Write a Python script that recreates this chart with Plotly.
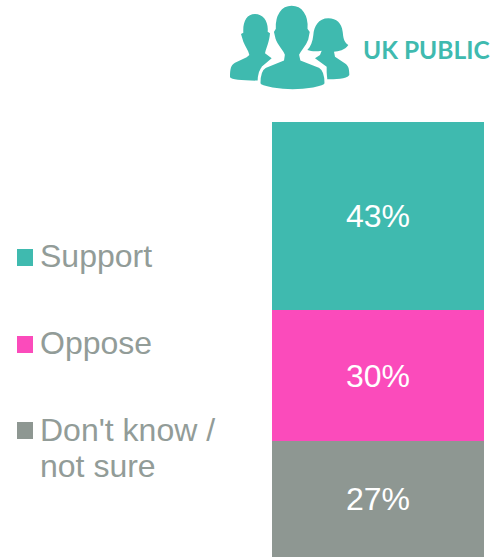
import plotly.graph_objects as go

CATEGORY = ["UK public"]
SERIES = ["Don't know / not sure", "Oppose", "Support"]
VALUES = [26.7, 30.1, 43.2]
LABELS = ["27%", "30%", "43%"]
COLORS = ["#8E9792", "#FB4BBB", "#3FBAAF"]
LEGEND_NAMES = ["Support", "Oppose", "Don't know /", "not sure"]
LEGEND_COLORS = ["#3FBAAF", "#FB4BBB", "#8E9792"]

W, H = 492, 557

def px(x):
    return x / W

def py(y):
    return 1 - y / H

def icon_path(cmds):
    # decorative icon outline, given in 3x crop pixels offset by (220, 0)
    out = []
    for c in cmds:
        if isinstance(c, str):
            out.append(c)
        else:
            out.append(f"{px(220 + c[0] / 3):.5f},{py(c[1] / 3):.5f}")
    return " ".join(out)

LEFT = ["M", (105, 42), "C", (80, 42), (68, 65), (70, 98), "L", (63, 102), "L", (70, 125),
        "C", (76, 140), (85, 150), (88, 165), "L", (80, 172), "L", (45, 188),
        "C", (33, 195), (30, 205), (30, 232), "C", (35, 240), (70, 242), (125, 242),
        "L", (125, 200), "L", (155, 175), "L", (135, 160),
        "C", (140, 140), (148, 125), (150, 100), "L", (143, 95),
        "C", (146, 65), (130, 42), (105, 42), "Z"]
RIGHT = ["M", (325, 55), "C", (295, 55), (282, 80), (280, 105),
         "C", (278, 125), (272, 140), (262, 150), "C", (275, 155), (290, 155), (305, 152),
         "L", (300, 165), "L", (285, 175), "L", (320, 200), "L", (320, 238),
         "C", (345, 238), (380, 238), (388, 225), "C", (388, 205), (385, 195), (372, 188),
         "L", (345, 170), "L", (342, 155), "C", (355, 155), (375, 150), (385, 135),
         "C", (370, 125), (370, 110), (368, 95), "C", (365, 70), (350, 55), (325, 55), "Z"]
CENTER = ["M", (215, 13), "C", (180, 13), (161, 45), (163, 85), "L", (157, 95), "L", (163, 120),
          "C", (170, 140), (185, 150), (190, 165), "L", (188, 178), "L", (135, 200),
          "C", (122, 207), (117, 220), (117, 250), "C", (117, 265), (190, 272), (218, 272),
          "C", (250, 272), (318, 265), (318, 250), "C", (318, 220), (312, 207), (300, 200),
          "L", (245, 178), "L", (242, 165), "C", (250, 150), (262, 140), (269, 120),
          "L", (274, 95), "L", (267, 85), "C", (270, 45), (250, 13), (215, 13), "Z"]

fig = go.Figure()
for name, val, lab, col in zip(SERIES, VALUES, LABELS, COLORS):
    fig.add_trace(go.Bar(
        x=CATEGORY, y=[val], name=name, marker=dict(color=col, line=dict(width=0)),
        text=[lab], textposition="inside", insidetextanchor="middle", textangle=0,
        insidetextfont=dict(color="white", size=32, family="Liberation Sans"),
        showlegend=False, width=1,
    ))

shapes = []
for path, lw in [(LEFT, 0), (RIGHT, 0), (CENTER, 3)]:
    shapes.append(dict(type="path", xref="paper", yref="paper", path=icon_path(path),
                       fillcolor="#3FBAAF", line=dict(color="white", width=lw), layer="above"))

annotations = [dict(text="UK PUBLIC", xref="paper", yref="paper", x=px(361), y=py(49),
                    xanchor="left", yanchor="middle", showarrow=False,
                    font=dict(family="Lato", size=24.5, color="#3FBAAF", weight="bold"))]

SWATCH_TOPS = [249, 336, 422]
for col, top in zip(LEGEND_COLORS, SWATCH_TOPS):
    shapes.append(dict(type="rect", xref="paper", yref="paper", x0=px(17), x1=px(33),
                       y0=py(top), y1=py(top + 17), fillcolor=col, line=dict(width=0)))

TEXT_CENTRES = [256, 343, 430, 466]
for name, ty in zip(LEGEND_NAMES, TEXT_CENTRES):
    annotations.append(dict(text=name, xref="paper", yref="paper", x=px(38), y=py(ty),
                            xanchor="left", yanchor="middle", align="left", showarrow=False,
                            font=dict(family="Liberation Sans", size=32, color="#929C98")))

fig.update_layout(
    width=W, height=H, autosize=False, barmode="stack", bargap=0,
    margin=dict(l=0, r=0, t=0, b=0), paper_bgcolor="white", plot_bgcolor="white",
    xaxis=dict(domain=[272 / W, 484 / W], visible=False, type="category"),
    yaxis=dict(domain=[0, (H - 122) / H], range=[0, 100], visible=False),
    shapes=shapes, annotations=annotations, showlegend=False,
)
fig.write_html("out.html", post_script="document.body.style.margin='0';",
               config={"displayModeBar": False})
